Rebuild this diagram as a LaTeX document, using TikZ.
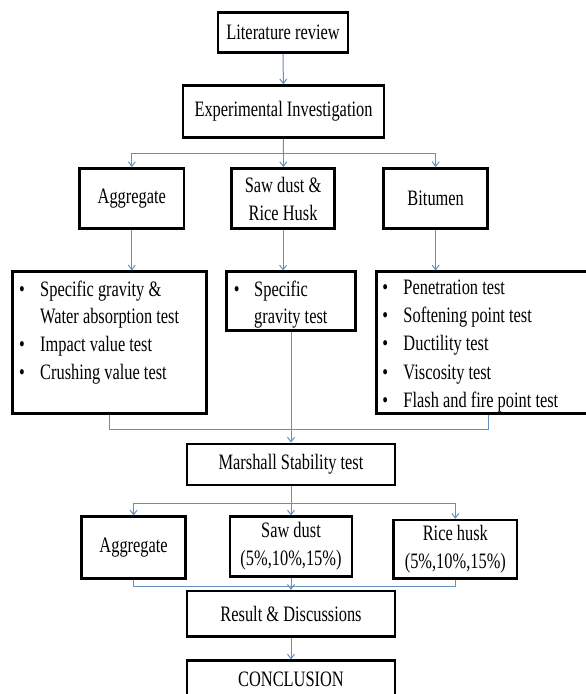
\documentclass[tikz,border=0pt]{standalone}
\usepackage{fontspec}
\setmainfont[FakeStretch=0.745]{Liberation Serif}
\usetikzlibrary{arrows.meta}
\definecolor{connblue}{RGB}{100,143,190}
\begin{document}
\begin{tikzpicture}[x=1pt,y=-1pt,
  box/.style={draw=black, line width=2.5pt, inner sep=0pt, align=center,
    font=\fontsize{22}{28}\selectfont},
  conn/.style={draw=connblue, line width=1pt},
  arr/.style={conn, -{Straight Barb[length=4.5pt,width=7pt]}},
  lst/.style={anchor=base west, inner sep=0pt, align=left}]
\useasboundingbox[fill=white] (0,0) rectangle (586,694);
\clip (0,0) rectangle (586,694);
% boxes
\node[box, minimum width=130pt, minimum height=40.2pt] (lit) at (283,32.4) {Literature review};
\node[box, minimum width=201pt, minimum height=52.2pt] (exp) at (283.5,111.6) {Experimental Investigation};
\node[box, minimum width=104.4pt, minimum height=60.4pt] (agg) at (131.8,198.5) {Aggregate};
\node[box, minimum width=102.8pt, minimum height=60.4pt] (saw) at (283.1,198.5) {Saw dust \&\\Rice Husk};
\node[box, minimum width=104pt, minimum height=60.4pt] (bit) at (435.7,198.5) {Bitumen};
\node[box, minimum width=194.4pt, minimum height=141.6pt] (aggt) at (109.5,342.5) {};
\node[box, minimum width=129pt, minimum height=59pt] (sawt) at (291,301.2) {};
\node[box, minimum width=223.7pt, minimum height=141.6pt] (bitt) at (488.15,342.5) {};
\node[box, minimum width=208pt, minimum height=41pt] (mar) at (291,464.3) {Marshall Stability test};
\node[box, minimum width=104.2pt, minimum height=61.6pt] (agg2) at (133.6,547.5) {Aggregate};
\node[box, minimum width=122pt, minimum height=60pt] (saw2) at (291,546.7) {Saw dust\\(5\%,10\%,15\%)};
\node[box, minimum width=123.7pt, minimum height=58.3pt] (rice) at (455.35,549.15) {Rice husk\\(5\%,10\%,15\%)};
\node[box, minimum width=208pt, minimum height=45.7pt] (res) at (291,613.85) {Result \& Discussions};
\node[box, minimum width=208pt, minimum height=36.8pt] (con) at (291,679.1) {CONCLUSION};
% lists
\node[lst, font=\fontsize{22}{27.7}\selectfont] (aggl) at (19,296)
  {\begin{tabular}[t]{@{}p{21pt}@{}l@{}}\textbullet & Specific gravity \&\\ & Water absorption test\\ \textbullet & Impact value test\\ \textbullet & Crushing value test\end{tabular}};
\node[lst, font=\fontsize{22}{27}\selectfont] (sawl) at (233.7,296.7)
  {\begin{tabular}[t]{@{}p{20.3pt}@{}l@{}}\textbullet & Specific\\ & gravity test\end{tabular}};
\node[lst, font=\fontsize{22}{28.3}\selectfont] (bitl) at (382.2,294.3)
  {\begin{tabular}[t]{@{}p{21.1pt}@{}l@{}}\textbullet & Penetration test\\ \textbullet & Softening point test\\ \textbullet & Ductility test\\ \textbullet & Viscosity test\\ \textbullet & Flash and fire point test\end{tabular}};
% connectors
\coordinate (b1) at (283.3,153.3);
\coordinate (b2) at (291,503.3);
\draw[arr] (lit) -- (exp);
\draw[conn] (exp.south) -- (b1);
\draw[arr] (b1) -| (agg.north);
\draw[arr] (b1) -- (b1 |- saw.north);
\draw[arr] (b1) -| (bit.north);
\draw[arr] (agg) -- (agg |- aggt.north);
\draw[arr] (saw) -- (saw |- sawt.north);
\draw[arr] (bit) -- (bit |- bitt.north);
\draw[conn] (aggt.south) -- ++(0,15) -| (bitt.south);
\draw[arr] (sawt.south) -- (mar.north);
\draw[conn] (mar.south) -- (b2);
\draw[arr] (b2) -| (agg2.north);
\draw[arr] (b2) -- (saw2.north);
\draw[arr] (b2) -| (rice.north);
\draw[conn] (agg2.south) -- ++(0,6.7) -| (rice.south);
\draw[arr] (saw2.south) -- (res.north);
\draw[arr] (res.south) -- (con.north);
\end{tikzpicture}
\end{document}
